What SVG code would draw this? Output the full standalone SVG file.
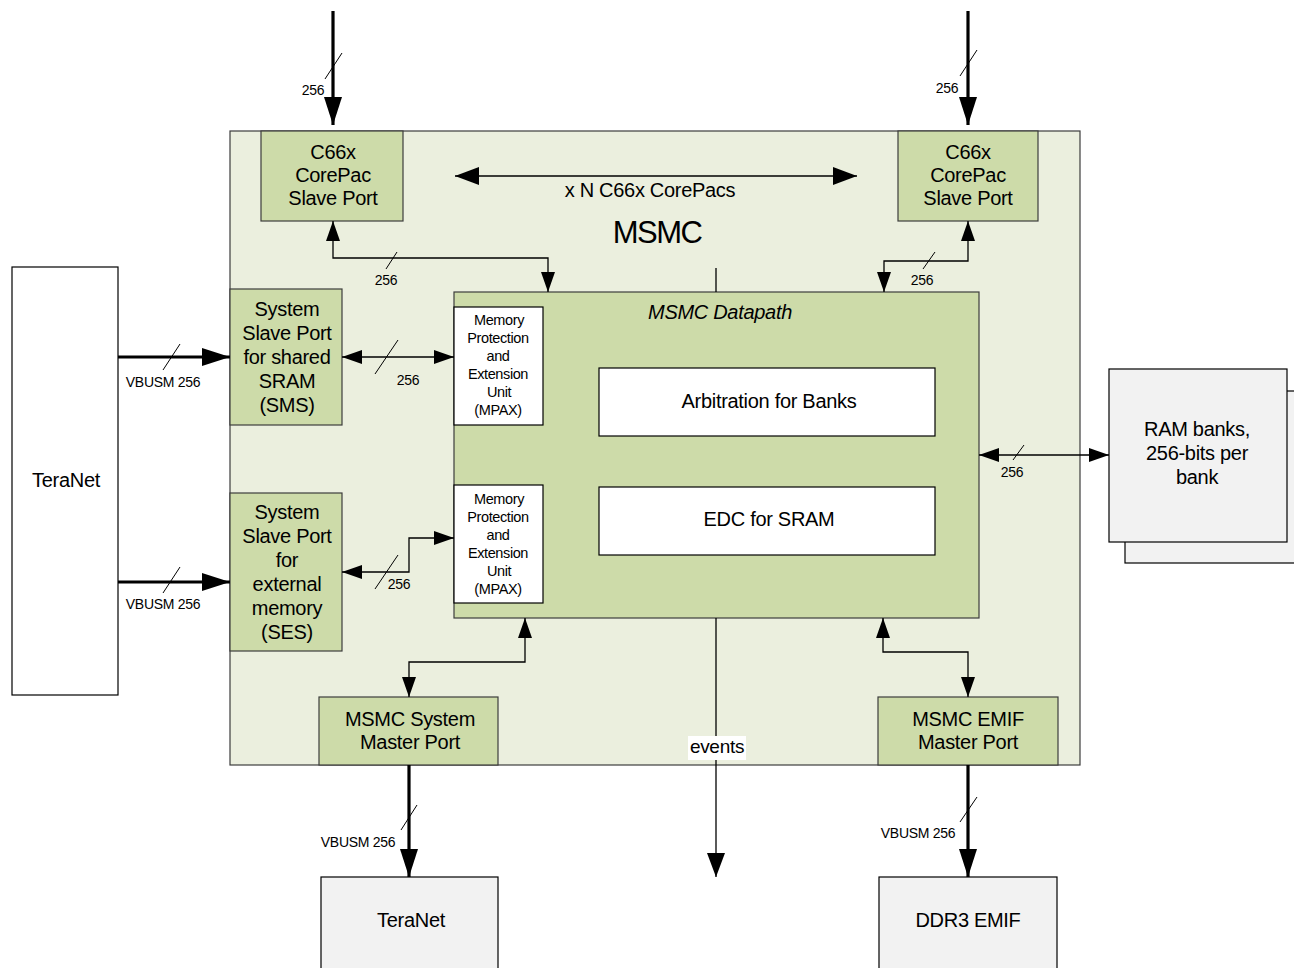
<svg xmlns="http://www.w3.org/2000/svg" width="1294" height="968" viewBox="0 0 1294 968">
<style>
text{font-family:"Liberation Sans",Arial,sans-serif;fill:#000;text-anchor:middle}
.t20{font-size:20px;letter-spacing:-0.3px}
.t14{font-size:14.5px;letter-spacing:-0.4px}
.lbl{font-size:14px;letter-spacing:-0.3px}
.grn{fill:#cddba9;stroke:#3c3c3c;stroke-width:1.2}
.wht{fill:#fff;stroke:#000;stroke-width:1.2}
.gry{fill:#f2f2f2;stroke:#000;stroke-width:1.2}
.thick{stroke:#000;stroke-width:3.2;fill:none}
.thin{stroke:#000;stroke-width:1.3;fill:none}
.sl{stroke:#000;stroke-width:1}
</style>
<defs>
<marker id="ah" markerUnits="userSpaceOnUse" markerWidth="28" markerHeight="18" refX="28" refY="9" orient="auto-start-reverse"><path d="M0,0 L28,9 L0,18 z" fill="#000"/></marker>
<marker id="as" markerUnits="userSpaceOnUse" markerWidth="20" markerHeight="14" refX="20" refY="7" orient="auto-start-reverse"><path d="M0,0 L20,7 L0,14 z" fill="#000"/></marker>
<marker id="am" markerUnits="userSpaceOnUse" markerWidth="24" markerHeight="18" refX="24" refY="9" orient="auto-start-reverse"><path d="M0,0 L24,9 L0,18 z" fill="#000"/></marker>
</defs>
<rect width="1294" height="968" fill="#fff"/>

<g id="msmc">
<rect x="230" y="131" width="850" height="634" fill="#ebefde" stroke="#3c3c3c" stroke-width="1.2"/>
<text x="657" y="243" style="font-size:31px;letter-spacing:-1.5px">MSMC</text>
</g>

<g id="teranet-left">
<rect class="wht" x="12" y="267" width="106" height="428"/>
<text class="t20" x="66" y="487">TeraNet</text>
</g>

<g id="ram-banks">
<rect class="gry" x="1125" y="391" width="175" height="172"/>
<rect class="gry" x="1109" y="369" width="178" height="173"/>
<text class="t20" x="1197" y="436">RAM banks,</text>
<text class="t20" x="1197" y="460">256-bits per</text>
<text class="t20" x="1197" y="484">bank</text>
</g>

<g id="teranet-bottom">
<rect class="gry" x="321" y="877" width="177" height="100"/>
<text class="t20" x="411" y="927">TeraNet</text>
</g>

<g id="ddr3-emif">
<rect class="gry" x="879" y="877" width="178" height="100"/>
<text class="t20" x="968" y="927">DDR3 EMIF</text>
</g>

<g id="corepac-left">
<rect class="grn" x="261" y="131" width="142" height="90"/>
<text class="t20" x="333" y="159">C66x</text>
<text class="t20" x="333" y="182">CorePac</text>
<text class="t20" x="333" y="205">Slave Port</text>
</g>

<g id="corepac-right">
<rect class="grn" x="898" y="131" width="140" height="90"/>
<text class="t20" x="968" y="159">C66x</text>
<text class="t20" x="968" y="182">CorePac</text>
<text class="t20" x="968" y="205">Slave Port</text>
</g>

<g id="sms">
<rect class="grn" x="230" y="289" width="112" height="136"/>
<text class="t20" x="287" y="316">System</text>
<text class="t20" x="287" y="340">Slave Port</text>
<text class="t20" x="287" y="364">for shared</text>
<text class="t20" x="287" y="388">SRAM</text>
<text class="t20" x="287" y="412">(SMS)</text>
</g>

<g id="ses">
<rect class="grn" x="230" y="493" width="112" height="158"/>
<text class="t20" x="287" y="519">System</text>
<text class="t20" x="287" y="543">Slave Port</text>
<text class="t20" x="287" y="567">for</text>
<text class="t20" x="287" y="591">external</text>
<text class="t20" x="287" y="615">memory</text>
<text class="t20" x="287" y="639">(SES)</text>
</g>

<g id="datapath">
<rect class="grn" x="454" y="292" width="525" height="326"/>
<text class="t20" x="720" y="319" font-style="italic">MSMC Datapath</text>
</g>

<g id="mpax-top">
<rect class="wht" x="454" y="307" width="89" height="118"/>
<text class="t14" x="499" y="325">Memory</text>
<text class="t14" x="498" y="343">Protection</text>
<text class="t14" x="498" y="361">and</text>
<text class="t14" x="498" y="379">Extension</text>
<text class="t14" x="499" y="397">Unit</text>
<text class="t14" x="498" y="415">(MPAX)</text>
</g>

<g id="mpax-bottom">
<rect class="wht" x="454" y="485" width="89" height="118"/>
<text class="t14" x="499" y="504">Memory</text>
<text class="t14" x="498" y="522">Protection</text>
<text class="t14" x="498" y="540">and</text>
<text class="t14" x="498" y="558">Extension</text>
<text class="t14" x="499" y="576">Unit</text>
<text class="t14" x="498" y="594">(MPAX)</text>
</g>

<g id="arbitration">
<rect class="wht" x="599" y="368" width="336" height="68"/>
<text class="t20" x="769" y="408">Arbitration for Banks</text>
</g>

<g id="edc">
<rect class="wht" x="599" y="487" width="336" height="68"/>
<text class="t20" x="769" y="526">EDC for SRAM</text>
</g>

<g id="master-sys">
<rect class="grn" x="319" y="697" width="179" height="68"/>
<text class="t20" x="410" y="726">MSMC System</text>
<text class="t20" x="410" y="749">Master Port</text>
</g>

<g id="master-emif">
<rect class="grn" x="878" y="697" width="180" height="68"/>
<text class="t20" x="968" y="726">MSMC EMIF</text>
<text class="t20" x="968" y="749">Master Port</text>
</g>

<g id="connectors">
<line class="thick" x1="333" y1="11" x2="333" y2="125" marker-end="url(#ah)"/>
<line class="sl" x1="325" y1="79" x2="342" y2="53"/>
<text class="lbl" x="313" y="95">256</text>
<line class="thick" x1="968" y1="11" x2="968" y2="125" marker-end="url(#ah)"/>
<line class="sl" x1="960" y1="76" x2="977" y2="50"/>
<text class="lbl" x="947" y="93">256</text>

<line class="thin" x1="455" y1="176" x2="857" y2="176" marker-start="url(#am)" marker-end="url(#am)"/>
<text class="t20" x="650" y="197">x N C66x CorePacs</text>

<polyline class="thin" points="333,221 333,258 548,258 548,292" marker-start="url(#as)" marker-end="url(#as)"/>
<line class="sl" x1="386" y1="269" x2="397" y2="252"/>
<text class="lbl" x="386" y="285">256</text>
<polyline class="thin" points="968,221 968,261 884,261 884,292" marker-start="url(#as)" marker-end="url(#as)"/>
<line class="sl" x1="923" y1="269" x2="935" y2="252"/>
<text class="lbl" x="922" y="285">256</text>
<line class="thin" x1="716" y1="268" x2="716" y2="292"/>

<line class="thick" x1="118" y1="357" x2="230" y2="357" marker-end="url(#ah)"/>
<line class="sl" x1="163" y1="370" x2="180" y2="344"/>
<text class="lbl" x="163" y="387">VBUSM 256</text>
<line class="thick" x1="118" y1="582" x2="230" y2="582" marker-end="url(#ah)"/>
<line class="sl" x1="163" y1="593" x2="180" y2="567"/>
<text class="lbl" x="163" y="609">VBUSM 256</text>

<line class="thin" x1="342" y1="357" x2="454" y2="357" marker-start="url(#as)" marker-end="url(#as)"/>
<line class="sl" x1="375" y1="374" x2="398" y2="340"/>
<text class="lbl" x="408" y="385">256</text>
<polyline class="thin" points="342,572 409,572 409,538 454,538" marker-start="url(#as)" marker-end="url(#as)"/>
<line class="sl" x1="375" y1="589" x2="398" y2="555"/>
<text class="lbl" x="399" y="589">256</text>

<line class="thin" x1="979" y1="455" x2="1109" y2="455" marker-start="url(#as)" marker-end="url(#as)"/>
<line class="sl" x1="1013" y1="460" x2="1024" y2="445"/>
<text class="lbl" x="1012" y="477">256</text>

<polyline class="thin" points="525,618 525,662 409,662 409,697" marker-start="url(#as)" marker-end="url(#as)"/>
<polyline class="thin" points="883,618 883,652 968,652 968,697" marker-start="url(#as)" marker-end="url(#as)"/>

<line class="thin" x1="716" y1="618" x2="716" y2="877" marker-end="url(#am)"/>
<rect x="688" y="736" width="58" height="24" fill="#fff"/>
<text class="t20" x="717" y="753" style="font-size:19px">events</text>

<line class="thick" x1="409" y1="765" x2="409" y2="877" marker-end="url(#ah)"/>
<line class="sl" x1="401" y1="830" x2="417" y2="805"/>
<text class="lbl" x="358" y="847">VBUSM 256</text>
<line class="thick" x1="968" y1="765" x2="968" y2="877" marker-end="url(#ah)"/>
<line class="sl" x1="960" y1="822" x2="977" y2="797"/>
<text class="lbl" x="918" y="838">VBUSM 256</text>
</g>
</svg>
